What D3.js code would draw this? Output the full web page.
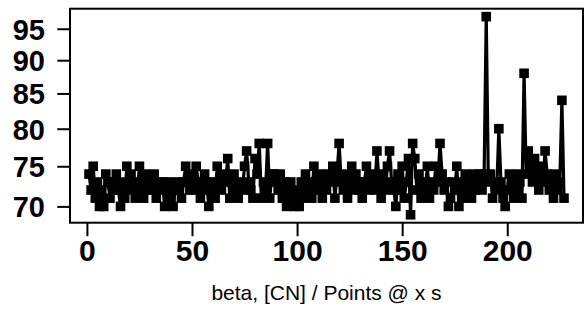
<!DOCTYPE html>
<html><head><meta charset="utf-8">
<script src="https://cdn.jsdelivr.net/npm/d3@7"></script>
<style>html,body{margin:0;padding:0;background:#fff;}svg{display:block;}</style>
</head><body>
<svg id="chart" width="584" height="324"></svg>
<script>
const values = [
74,72,75,71,73,70,72,70,74,73,
71,73,72,74,72,70,73,71,75,72,
74,73,71,72,75,73,71,74,72,73,
72,74,71,73,72,73,70,72,73,71,
70,72,73,72,71,73,75,73,72,74,
72,75,73,71,72,74,73,70,72,73,
71,75,73,72,74,73,76,71,73,74,
72,71,73,72,75,77,73,72,71,76,
74,78,71,73,72,78,71,74,74,73,
72,74,71,73,70,72,73,71,70,72,
70,73,71,74,72,73,71,75,73,72,
74,71,73,72,74,73,75,71,74,78,
73,72,74,71,73,75,72,74,73,72,
71,73,75,72,74,73,72,77,73,71,
74,72,75,77,73,72,70,74,72,75,
71,73,76,69,78,76,72,74,71,73,
72,75,71,73,72,75,73,78,74,72,
73,70,71,73,72,75,70,73,71,74,
72,73,71,74,72,73,74,72,74,97,
73,74,71,73,72,80,73,71,70,72,
74,73,71,72,74,73,71,88,74,77,
75,73,76,74,72,75,73,77,74,72,
73,71,74,72,73,84,71
];
const xs = values.map((v,i)=>i+1);
const xTicks = [0,50,100,150,200];
const yTicks = [70,75,80,85,90,95];
const xTitle = "beta, [CN] / Points @ x s";

const L=70, R=583, T=8.7, B=222.7;
const svg = d3.select("#chart");
const xmin=d3.min(xs), xmax=d3.max(xs), xr=xmax-xmin;
const x = d3.scaleLinear().domain([xmin-0.04*xr, xmax+0.04*xr]).range([L,R]);
const lmin=Math.log(d3.min(values)), lmax=Math.log(d3.max(values)), lr=lmax-lmin;
const y = d3.scaleLog().domain([Math.exp(lmin-0.04*lr), Math.exp(lmax+0.04*lr)]).range([B,T]);

const data = values.map((v,i)=>({x:xs[i], y:v}));
svg.append("path").datum(data)
  .attr("fill","none").attr("stroke","#000").attr("stroke-width",3.2).attr("stroke-linejoin","round")
  .attr("d", d3.line().x(d=>x(d.x)).y(d=>y(d.y)));
const s=9.6;
svg.append("g").selectAll("rect").data(data).join("rect")
  .attr("x",d=>x(d.x)-s/2).attr("y",d=>y(d.y)-s/2).attr("width",s).attr("height",s).attr("fill","#000");

// box
svg.append("rect").attr("x",L).attr("y",T).attr("width",R-L).attr("height",B-T)
  .attr("fill","none").attr("stroke","#000").attr("stroke-width",2);

const font="'Liberation Sans', Arial, sans-serif";
// x axis
const xa = svg.append("g").attr("transform",`translate(0,${B})`)
  .call(d3.axisBottom(x).tickValues(xTicks).tickSize(13.5).tickSizeOuter(0).tickFormat(d3.format("d")));
xa.select(".domain").remove();
xa.selectAll("line").attr("stroke","#000").attr("stroke-width",2);
xa.selectAll("text").attr("dy",null).attr("y",38.5).attr("fill","#000").attr("font-family",font)
  .attr("font-weight","bold").attr("font-size","30px");

// y axis
const ya = svg.append("g").attr("transform",`translate(${L},0)`)
  .call(d3.axisLeft(y).tickValues(yTicks).tickSize(12.7).tickSizeOuter(0).tickFormat(d3.format("d")));
ya.select(".domain").remove();
ya.selectAll("line").attr("stroke","#000").attr("stroke-width",2);
ya.selectAll("text").attr("x",-25).attr("dy","0.36em")
  .attr("fill","#000").attr("font-family",font)
  .attr("font-weight","bold").attr("font-size","29px").attr("text-anchor","end");

svg.append("text").attr("x",(L+R)/2).attr("y",300)
  .attr("text-anchor","middle").attr("font-family",font)
  .attr("font-size","21px").attr("fill","#000").text(xTitle);
</script>
</body></html>
